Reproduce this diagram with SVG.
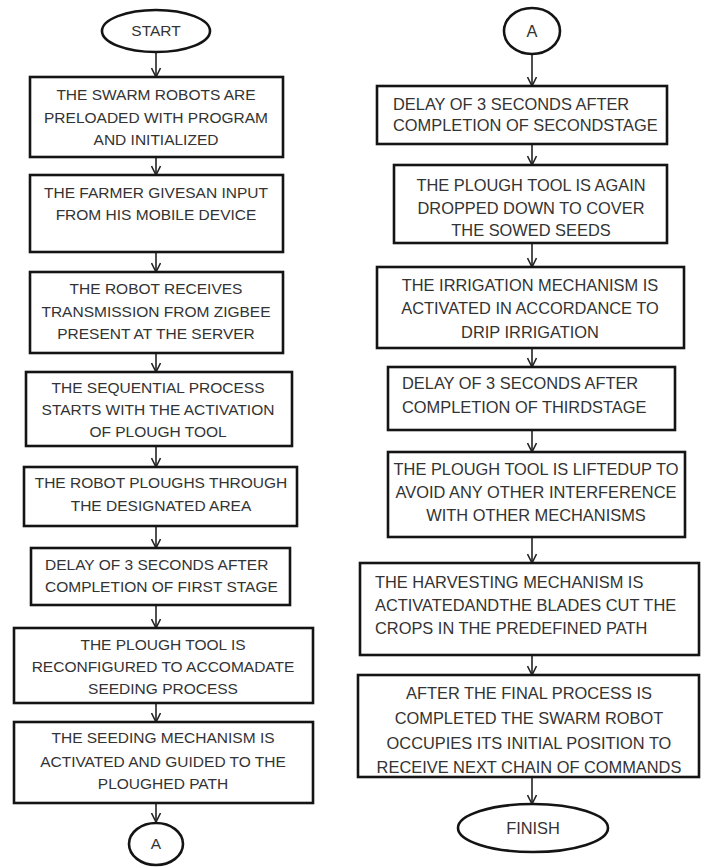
<svg xmlns="http://www.w3.org/2000/svg" width="704" height="867" viewBox="0 0 704 867">
<defs>
<style>
.box{fill:#fff;stroke:#141414;stroke-width:2.6}
.term{fill:#fff;stroke:#141414;stroke-width:2.6}
.t{font-family:"Liberation Sans",Arial,sans-serif;fill:#333}
.l{font-size:15.5px;text-anchor:middle}
.r{font-size:16.4px;text-anchor:middle}
.ll{font-size:15.5px;text-anchor:start}
.rl{font-size:16.4px;text-anchor:start}
.c{fill:none;stroke:#222;stroke-width:1.6}
</style>
<marker id="ah" markerWidth="12" markerHeight="10" refX="10" refY="5" orient="auto" markerUnits="userSpaceOnUse">
<path d="M1,0.5 L10,5 L1,9.5" fill="none" stroke="#222" stroke-width="1.6"/>
</marker>
</defs>
<rect width="704" height="867" fill="#fff"/>

<g id="connectors">
<line class="c" x1="156" y1="52" x2="156" y2="77" marker-end="url(#ah)"/>
<line class="c" x1="156" y1="157" x2="156" y2="175" marker-end="url(#ah)"/>
<line class="c" x1="156" y1="252" x2="156" y2="272" marker-end="url(#ah)"/>
<line class="c" x1="156" y1="353" x2="156" y2="372" marker-end="url(#ah)"/>
<line class="c" x1="156" y1="446" x2="156" y2="467" marker-end="url(#ah)"/>
<line class="c" x1="156" y1="526" x2="156" y2="548" marker-end="url(#ah)"/>
<line class="c" x1="156" y1="605" x2="156" y2="628" marker-end="url(#ah)"/>
<line class="c" x1="156" y1="703" x2="156" y2="722" marker-end="url(#ah)"/>
<line class="c" x1="156" y1="803" x2="156" y2="822" marker-end="url(#ah)"/>
<line class="c" x1="532" y1="54" x2="532" y2="86" marker-end="url(#ah)"/>
<line class="c" x1="532" y1="144" x2="532" y2="165" marker-end="url(#ah)"/>
<line class="c" x1="532" y1="243" x2="532" y2="267" marker-end="url(#ah)"/>
<line class="c" x1="532" y1="348" x2="532" y2="367" marker-end="url(#ah)"/>
<line class="c" x1="532" y1="430" x2="532" y2="452" marker-end="url(#ah)"/>
<line class="c" x1="532" y1="537" x2="532" y2="563" marker-end="url(#ah)"/>
<line class="c" x1="532" y1="655" x2="532" y2="675" marker-end="url(#ah)"/>
<line class="c" x1="532" y1="777" x2="532" y2="804" marker-end="url(#ah)"/>
</g>

<g id="start">
<ellipse class="term" cx="156" cy="31" rx="54" ry="21"/>
<text class="t l" x="156" y="36" font-size="14.5">START</text>
</g>

<g id="l1">
<rect class="box" x="30" y="77" width="253" height="80"/>
<text class="t l" x="156" y="100">THE SWARM ROBOTS ARE</text>
<text class="t l" x="156" y="123">PRELOADED WITH PROGRAM</text>
<text class="t l" x="156" y="145">AND INITIALIZED</text>
</g>

<g id="l2">
<rect class="box" x="30" y="175" width="253" height="77"/>
<text class="t l" x="156" y="198">THE FARMER GIVESAN INPUT</text>
<text class="t l" x="156" y="220">FROM HIS MOBILE DEVICE</text>
</g>

<g id="l3">
<rect class="box" x="30" y="272" width="253" height="81"/>
<text class="t l" x="156" y="294">THE ROBOT RECEIVES</text>
<text class="t l" x="156" y="317">TRANSMISSION FROM ZIGBEE</text>
<text class="t l" x="156" y="339">PRESENT AT THE SERVER</text>
</g>

<g id="l4">
<rect class="box" x="26" y="372" width="266" height="74"/>
<text class="t l" x="158" y="393">THE SEQUENTIAL PROCESS</text>
<text class="t l" x="158" y="415">STARTS WITH THE ACTIVATION</text>
<text class="t l" x="158" y="437">OF PLOUGH TOOL</text>
</g>

<g id="l5">
<rect class="box" x="24" y="467" width="273" height="59"/>
<text class="t l" x="161" y="488">THE ROBOT PLOUGHS THROUGH</text>
<text class="t l" x="161" y="511">THE DESIGNATED AREA</text>
</g>

<g id="l6">
<rect class="box" x="31" y="548" width="259" height="57"/>
<text class="t ll" x="45" y="570">DELAY OF 3 SECONDS AFTER</text>
<text class="t ll" x="45" y="592">COMPLETION OF FIRST STAGE</text>
</g>

<g id="l7">
<rect class="box" x="14" y="628" width="299" height="75"/>
<text class="t l" x="163" y="650">THE PLOUGH TOOL IS</text>
<text class="t l" x="163" y="672">RECONFIGURED TO ACCOMADATE</text>
<text class="t l" x="163" y="694">SEEDING PROCESS</text>
</g>

<g id="l8">
<rect class="box" x="14" y="722" width="299" height="81"/>
<text class="t l" x="163" y="743">THE SEEDING MECHANISM IS</text>
<text class="t l" x="163" y="767">ACTIVATED AND GUIDED TO THE</text>
<text class="t l" x="163" y="789">PLOUGHED PATH</text>
</g>

<g id="connA1">
<ellipse class="term" cx="156" cy="844" rx="27" ry="21"/>
<text class="t l" x="156" y="849" font-size="14">A</text>
</g>

<g id="connA2">
<ellipse class="term" cx="532" cy="31" rx="28" ry="23"/>
<text class="t r" x="532" y="37" font-size="15">A</text>
</g>

<g id="r1">
<rect class="box" x="377" y="86" width="290" height="58"/>
<text class="t rl" x="393" y="110">DELAY OF 3 SECONDS AFTER</text>
<text class="t rl" x="393" y="131">COMPLETION OF SECONDSTAGE</text>
</g>

<g id="r2">
<rect class="box" x="394" y="165" width="273" height="78"/>
<text class="t r" x="531" y="191">THE PLOUGH TOOL IS AGAIN</text>
<text class="t r" x="531" y="214">DROPPED DOWN TO COVER</text>
<text class="t r" x="531" y="236">THE SOWED SEEDS</text>
</g>

<g id="r3">
<rect class="box" x="377" y="267" width="307" height="81"/>
<text class="t r" x="530" y="291">THE IRRIGATION MECHANISM IS</text>
<text class="t r" x="530" y="314">ACTIVATED IN ACCORDANCE TO</text>
<text class="t r" x="530" y="338">DRIP IRRIGATION</text>
</g>

<g id="r4">
<rect class="box" x="388" y="367" width="287" height="63"/>
<text class="t rl" x="402" y="389">DELAY OF 3 SECONDS AFTER</text>
<text class="t rl" x="402" y="413">COMPLETION OF THIRDSTAGE</text>
</g>

<g id="r5">
<rect class="box" x="388" y="452" width="297" height="85"/>
<text class="t r" x="536" y="475">THE PLOUGH TOOL IS LIFTEDUP TO</text>
<text class="t r" x="536" y="498">AVOID ANY OTHER  INTERFERENCE</text>
<text class="t r" x="536" y="521">WITH OTHER MECHANISMS</text>
</g>

<g id="r6">
<rect class="box" x="360" y="563" width="339" height="92"/>
<text class="t rl" x="375" y="588">THE HARVESTING MECHANISM IS</text>
<text class="t rl" x="375" y="611">ACTIVATEDANDTHE BLADES CUT THE</text>
<text class="t rl" x="375" y="634">CROPS IN THE PREDEFINED PATH</text>
</g>

<g id="r7">
<rect class="box" x="358" y="675" width="341" height="102"/>
<text class="t r" x="529" y="699">AFTER THE FINAL PROCESS IS</text>
<text class="t r" x="529" y="724">COMPLETED THE SWARM ROBOT</text>
<text class="t r" x="529" y="749">OCCUPIES ITS INITIAL POSITION TO</text>
<text class="t r" x="529" y="773">RECEIVE NEXT CHAIN OF COMMANDS</text>
</g>

<g id="finish">
<ellipse class="term" cx="533" cy="828" rx="75" ry="24"/>
<text class="t r" x="533" y="834" font-size="16">FINISH</text>
</g>
</svg>
